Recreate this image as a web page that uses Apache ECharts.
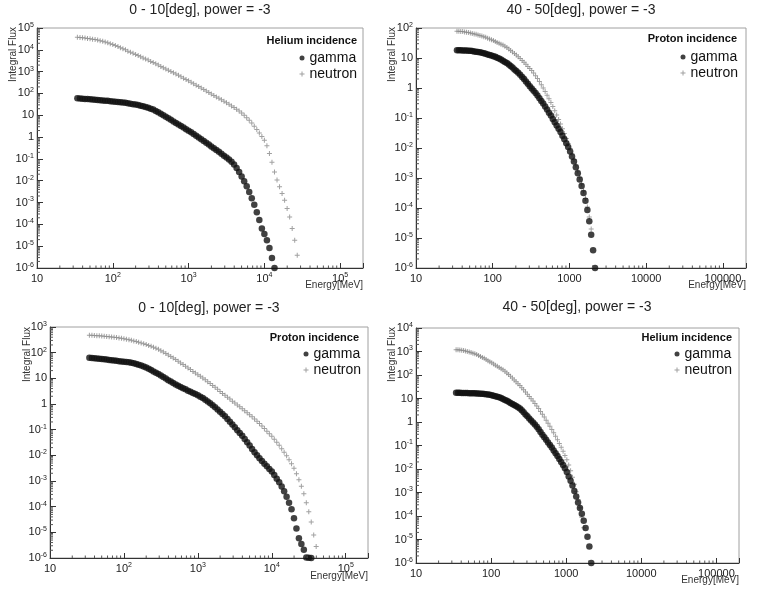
<!DOCTYPE html>
<html><head><meta charset="utf-8">
<script src="https://cdn.jsdelivr.net/npm/echarts@6/dist/echarts.min.js"></script>
<style>html,body{margin:0;padding:0;background:#fff}#c{width:763px;height:589px}</style>
</head><body><div id="c"></div>
<script>
// ---- energies (bin centres, MeV) ----
const energiesA = [34.1,36.9,39.8,43.0,46.4,50.1,54.1,58.4,63.1,68.1,73.6,79.4,85.8,92.6,100,108,117,126,136,147,158,171,185,200,216,233,251,271,293,316,
341,369,398,430,464,501,541,584,631,681,736,794,858,926,1000,1080,1166,1259,1359,1468,1585,1711,1848,1995,2154,2327,2512,2712,2929,3162,
3415,3687,3981,4299,4642,5012,5412,5843,6310,6813,7356,7943,8577,9261,10000,10798,11659,12589,13594,14678,15849,17113,18478,19953,21544,23263,25119,27123,29286,31623,
34145,36869,39811];
const energiesB = [34.2,36.2,38.3,40.6,43.0,45.5,48.2,51.1,54.1,57.3,60.7,64.3,68.1,72.2,76.5,81.0,85.8,90.9,96.2,102,108,114,121,128,136,144,153,162,171,181,192,203,215,228,242,256,271,287,304,322,
341,362,383,406,430,455,482,511,541,573,607,643,681,722,765,810,858,909,962,1020,1080,1144,1212,1284,1360,1440,1525,1616,1712,1813,1920,2034,2155];

// ---- panel 1: 0-10 deg, Helium incidence ----
const p1Gamma = [60.3,58.9,57.5,56.2,55.0,53.7,52.5,51.3,50.1,49.0,
47.9,46.8,45.7,43.7,42.7,41.7,40.7,39.8,38.0,37.2,
35.5,33.9,32.4,30.9,29.5,27.5,25.7,24.0,21.9,20.0,
18.2,15.8,13.8,11.7,10.0,8.51,7.24,6.17,5.25,4.47,
3.80,3.24,2.75,2.29,1.95,1.66,1.38,1.15,0.955,0.794,
0.661,0.550,0.457,0.372,0.309,0.257,0.214,0.174,0.141,0.115,
0.0933,0.0741,0.0550,0.0380,0.0251,0.0158,0.00955,0.00562,0.00302,0.00158,
7.94e-4,3.55e-4,1.58e-4,6.46e-5,3.63e-5,1.86e-5,8.32e-6,2.88e-6,1.0e-6];
const p1Neutron = [3.72e4,3.63e4,3.55e4,3.47e4,3.31e4,3.24e4,3.09e4,2.95e4,2.82e4,2.63e4,
2.45e4,2.29e4,2.09e4,1.91e4,1.74e4,1.58e4,1.41e4,1.26e4,1.12e4,1.00e4,
8710,7760,6920,6170,5500,4790,4270,3800,3390,2950,
2630,2290,2000,1740,1510,1320,1170,1020,891,776,
676,589,501,437,380,324,282,240,209,178,
151,129,110,93.3,81.3,69.2,60.3,51.3,43.7,37.2,
31.6,26.9,22.9,19.1,15.5,12.6,10.0,7.76,5.89,4.37,
3.16,2.24,1.55,1.07,0.708,0.398,0.178,0.0708,0.0251,0.0107,
0.00525,0.00263,0.00129,5.37e-4,2.19e-4,6.46e-5,1.86e-5,3.80e-6];

// ---- panel 2: 40-50 deg, Proton incidence ----
const p2Gamma = [18.2,18.2,18.2,17.8,17.8,17.8,17.4,17.4,17.0,16.6,
16.2,15.8,15.5,15.1,14.5,13.8,13.2,12.6,12.0,11.5,
11.0,10.2,9.55,8.91,8.13,7.41,6.76,6.03,5.37,4.79,
4.17,3.72,3.24,2.75,2.34,2.00,1.66,1.38,1.15,0.955,
0.813,0.676,0.562,0.457,0.372,0.302,0.240,0.191,0.151,0.120,
0.0933,0.0724,0.0562,0.0437,0.0339,0.0257,0.0195,0.0145,0.0107,0.00759,
0.00525,0.00355,0.00229,0.00145,8.91e-4,5.37e-4,3.16e-4,1.74e-4,8.51e-5,3.63e-5,
1.29e-5,3.89e-6,1.0e-6];
const p2Neutron = [77.6,77.6,75.9,75.9,74.1,72.4,70.8,67.6,66.1,63.1,
61.7,58.9,56.2,53.7,51.3,49.0,45.7,42.7,40.7,38.0,
35.5,33.1,30.9,28.8,26.9,24.5,22.4,20.0,17.8,15.8,
14.1,12.6,11.0,9.55,8.32,7.24,6.17,5.25,4.47,3.80,
3.16,2.57,2.09,1.66,1.29,1.00,0.759,0.575,0.437,0.331,
0.240,0.174,0.126,0.0891,0.0631,0.0437,0.0302,0.0209,0.0141,0.00955,
0.00631,0.00417,0.00269,0.00170,0.00105,6.31e-4,3.72e-4,2.09e-4,1.07e-4,5.01e-5,
2.00e-5];

// ---- panel 3: 0-10 deg, Proton incidence ----
const p3Gamma = [63.1,61.7,60.3,58.9,57.5,56.2,55.0,53.7,51.3,50.1,
49.0,47.9,46.8,45.7,44.7,43.7,42.7,40.7,38.9,36.3,
33.9,31.6,28.8,26.3,23.4,20.9,18.6,16.6,14.8,12.9,
11.2,9.77,8.51,7.59,6.61,5.75,5.13,4.57,4.07,3.72,
3.31,3.02,2.69,2.45,2.19,1.91,1.70,1.48,1.26,1.07,
0.891,0.741,0.617,0.501,0.407,0.331,0.263,0.204,0.158,0.123,
0.0955,0.0741,0.0575,0.0437,0.0324,0.0240,0.0178,0.0132,0.0100,0.00776,
0.00603,0.00468,0.00372,0.00295,0.00234,0.00170,0.00123,8.91e-4,6.17e-4,3.98e-4,
2.45e-4,1.41e-4,7.94e-5,3.55e-5,1.41e-5,5.89e-6,3.55e-6,2.09e-6,1.05e-6,1.02e-6,
1.0e-6];
const p3Neutron = [479,479,468,457,457,447,437,427,417,407,
398,389,372,363,347,331,316,302,288,275,
257,240,224,209,191,178,162,148,135,120,
107,93.3,81.3,70.8,61.7,53.7,46.8,39.8,34.7,29.5,
25.1,21.9,18.6,16.2,13.8,12.0,10.2,8.71,7.41,6.31,
5.25,4.47,3.72,3.09,2.57,2.19,1.82,1.55,1.29,1.10,
0.912,0.776,0.646,0.550,0.457,0.380,0.316,0.263,0.214,0.174,
0.138,0.110,0.0871,0.0692,0.0550,0.0427,0.0324,0.0245,0.0182,0.0132,
0.00955,0.00676,0.00468,0.00316,0.00191,0.00112,6.31e-4,3.16e-4,1.41e-4,6.31e-5,
2.51e-5,7.94e-6,2.82e-6];

// ---- panel 4: 40-50 deg, Helium incidence ----
const p4Gamma = [17.4,17.4,17.4,17.0,17.0,17.0,17.0,16.6,16.6,16.6,
16.6,16.2,16.2,15.8,15.8,15.5,15.1,14.8,14.5,13.8,
13.2,12.6,12.0,11.2,10.5,9.55,8.71,7.94,7.24,6.46,
5.89,5.25,4.79,4.27,3.80,3.16,2.57,2.09,1.74,1.41,
1.17,0.955,0.776,0.631,0.490,0.372,0.288,0.224,0.174,0.135,
0.105,0.0813,0.0617,0.0468,0.0355,0.0269,0.0200,0.0148,0.0107,0.00741,
0.00479,0.00316,0.00200,0.00117,6.76e-4,3.80e-4,2.19e-4,1.26e-4,6.31e-5,3.09e-5,
1.32e-5,5.01e-6,1.0e-6];
const p4Neutron = [1200,1175,1148,1122,1096,1047,1000,955,912,851,
794,741,676,617,562,513,457,407,363,331,
295,263,234,209,186,166,145,123,105,89.1,
74.1,61.7,51.3,42.7,35.5,28.8,23.4,19.1,15.1,12.3,
9.77,7.76,6.17,4.79,3.72,2.82,2.14,1.62,1.20,0.891,
0.661,0.479,0.347,0.245,0.174,0.123,0.0851,0.0575,0.0380,0.0245,
0.0148,0.00851,0.00447,0.00224,0.00107,5.01e-4,2.24e-4,8.91e-5,3.16e-5];

// ---- texts and tick labels ----
const panelTitles = ['0 - 10[deg], power = -3','40 - 50[deg], power = -3','0 - 10[deg], power = -3','40 - 50[deg], power = -3'];
const panelHeaders = ['Helium incidence','Proton incidence','Proton incidence','Helium incidence'];
const seriesNames = ['gamma','neutron'];
const yAxisTitle = 'Integral Flux';
const xAxisTitle = 'Energy[MeV]';
const plainXTickLabels = ['10','100','1000','10000','100000'];
const yMinExp = -6;
const yMaxExps = [5, 2, 3, 4];

const FONT = '"Liberation Sans", Arial, Helvetica, sans-serif';
const PLUS = 'path://M4,0H6V4H10V6H6V10H4V6H0V4H4Z';

const panels = [
  {grid:{left:37,top:28,width:326,height:240}, sup:true, en:energiesA, g:p1Gamma, n:p1Neutron,
   title:[200,10], yname:[13,27], xname:[363,285], head:[357,41], legRight:357, legTop:51},
  {grid:{left:416,top:28,width:330,height:240}, sup:false, en:energiesB, g:p2Gamma, n:p2Neutron,
   title:[581,10], yname:[392,27], xname:[746,285], head:[737,39], legRight:738, legTop:50},
  {grid:{left:50,top:327,width:318,height:231}, sup:true, en:energiesA, g:p3Gamma, n:p3Neutron,
   title:[209,308], yname:[27,327], xname:[368,576], head:[359,338], legRight:361, legTop:347},
  {grid:{left:416,top:328,width:323,height:235}, sup:false, en:energiesB, g:p4Gamma, n:p4Neutron,
   title:[577,307], yname:[392,327], xname:[739,580], head:[732,338], legRight:732, legTop:347}
];

const rich = {
  b: {fontSize: 11, fontFamily: FONT, color: '#222', lineHeight: 13},
  s: {fontSize: 7, fontFamily: FONT, color: '#222', lineHeight: 7, verticalAlign: 'top'}
};
function decade(v){
  const l = Math.log10(v), e = Math.round(l);
  return Math.abs(l - e) < 1e-6 ? e : null;
}
function supFmt(v){
  const e = decade(v);
  if (e === null) return '';
  if (e === 0) return '{b|1}';
  if (e === 1) return '{b|10}';
  return '{b|10}{s|' + e + '}';
}
function plainFmt(v){
  const e = decade(v);
  if (e === null || e < 1 || e > plainXTickLabels.length) return '';
  return '{b|' + plainXTickLabels[e - 1] + '}';
}
function minorTicks(yMax){
  const d = [];
  for (let n = 1; n <= 5; n++) for (let m = 2; m <= 9; m++) {
    const v = m * Math.pow(10, n);
    if (v < 2e5) d.push([v, Math.pow(10, yMinExp), 0]);
  }
  for (let n = yMinExp; n < yMax; n++) for (let m = 2; m <= 9; m++) d.push([10, m * Math.pow(10, n), 1]);
  return d;
}
function renderTick(params, api){
  const p = api.coord([api.value(0), api.value(1)]);
  const kind = api.value(2);
  const shape = kind === 0 ? {x1:p[0], y1:p[1], x2:p[0], y2:p[1]-2.5}
                           : {x1:p[0], y1:p[1], x2:p[0]+3, y2:p[1]};
  return {type:'line', shape: shape, style:{stroke:'#555', lineWidth:1}};
}

const series = [];
const graphic = [];
panels.forEach((p, i) => {
  series.push({type:'scatter', name: seriesNames[1], xAxisIndex:i, yAxisIndex:i, symbol: PLUS, symbolSize: 5,
    itemStyle:{color:'#8a8a8a'}, clip:false, silent:true, z:2,
    data: p.n.map((v, k) => [p.en[k], v])});
  series.push({type:'scatter', name: seriesNames[0], xAxisIndex:i, yAxisIndex:i, symbol:'circle', symbolSize: 6.5,
    itemStyle:{color:'#111'}, clip:false, silent:true, z:3,
    data: p.g.map((v, k) => [p.en[k], v])});
  series.push({type:'custom', xAxisIndex:i, yAxisIndex:i, renderItem: renderTick, silent:true, clip:false, z:4,
    data: minorTicks(yMaxExps[i])});
  graphic.push({type:'text', x:p.title[0], y:p.title[1], silent:true,
    style:{text: panelTitles[i], font:'14px ' + FONT, fill:'#222', textAlign:'center', textVerticalAlign:'middle'}});
  graphic.push({type:'text', x:p.yname[0], y:p.yname[1], rotation: Math.PI/2, silent:true,
    style:{text: yAxisTitle, font:'10px ' + FONT, fill:'#333', textAlign:'right', textVerticalAlign:'middle'}});
  graphic.push({type:'text', x:p.xname[0], y:p.xname[1], silent:true,
    style:{text: xAxisTitle, font:'10px ' + FONT, fill:'#333', textAlign:'right', textVerticalAlign:'middle'}});
  graphic.push({type:'text', x:p.head[0], y:p.head[1], silent:true,
    style:{text: panelHeaders[i], font:'bold 11px ' + FONT, fill:'#111', textAlign:'right', textVerticalAlign:'middle'}});
});

const option = {
  animation: false,
  backgroundColor: '#fff',
  grid: panels.map(p => Object.assign({show:true, borderColor:'#a0a0a0', borderWidth:1, containLabel:false}, p.grid)),
  xAxis: panels.map((p, i) => ({
    gridIndex:i, type:'log', logBase:10, min:10, max:2e5, interval:1,
    axisLine:{onZero:false, lineStyle:{color:'#333', width:1}},
    axisTick:{inside:true, length:5, lineStyle:{color:'#333'}},
    splitLine:{show:false},
    axisLabel:{interval:0, margin:4, formatter: p.sup ? supFmt : plainFmt, rich: rich, hideOverlap:false}
  })),
  yAxis: panels.map((p, i) => ({
    gridIndex:i, type:'log', logBase:10, min:Math.pow(10, yMinExp), max:Math.pow(10, yMaxExps[i]), interval:1,
    axisLine:{onZero:false, lineStyle:{color:'#333', width:1}},
    axisTick:{inside:true, length:6, lineStyle:{color:'#333'}},
    splitLine:{show:false},
    axisLabel:{interval:0, margin:3, formatter: supFmt, rich: rich, hideOverlap:false}
  })),
  legend: panels.map(p => ({
    orient:'vertical', right: 763 - p.legRight, top: p.legTop, padding:0,
    itemWidth:5, itemHeight:5, itemGap:2, selectedMode:false,
    textStyle:{fontFamily:FONT, fontSize:14, color:'#111', lineHeight:12},
    data:[{name: seriesNames[0], icon:'circle', itemStyle:{color:'#111'}},
          {name: seriesNames[1], icon: PLUS, itemStyle:{color:'#888'}}]
  })),
  graphic: graphic,
  series: series
};
const chart = echarts.init(document.getElementById('c'), null, {renderer:'canvas'});
chart.setOption(option);
</script>
</body></html>
